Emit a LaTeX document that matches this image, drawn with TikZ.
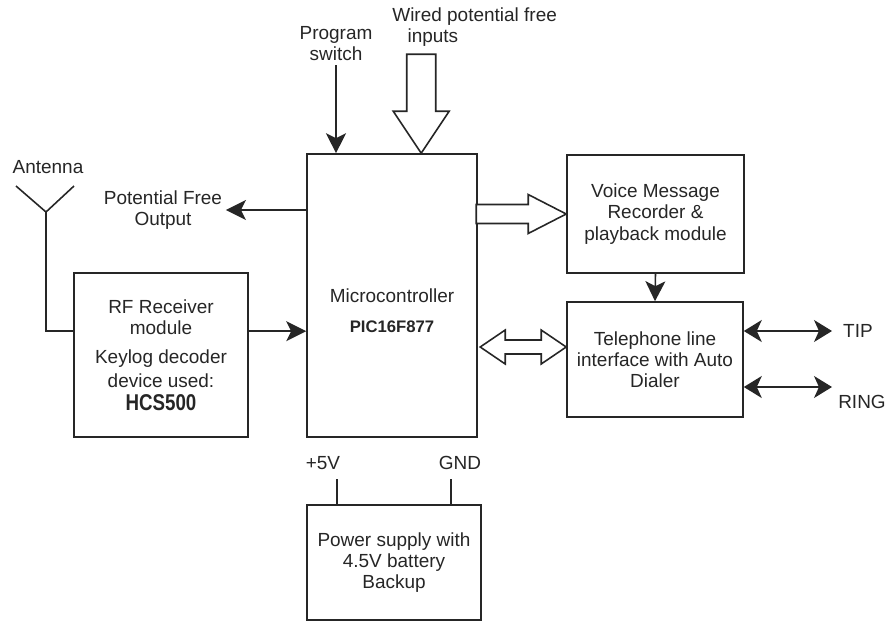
\documentclass[tikz,border=0pt]{standalone}
\usepackage{fontspec}
\setmainfont{Liberation Sans}
\usetikzlibrary{arrows.meta,positioning,calc}

\begin{document}
\begin{tikzpicture}[
    box/.style={rectangle, draw=black!85, line width=0.9pt, align=center, inner sep=2pt, font=\fontsize{10.8}{12}\selectfont, text=black!85},
    lbl/.style={align=center, inner sep=2pt, font=\fontsize{10.8}{12}\selectfont, text=black!85},
    wire/.style={line width=0.9pt, draw=black!85},
    arrow/.style={-{Stealth[length=4mm, width=4mm, inset=1mm]}, line width=0.9pt, draw=black!85},
    darrow/.style={{Stealth[length=3.6mm, width=4.4mm, inset=1mm]}-{Stealth[length=3.6mm, width=4.4mm, inset=1mm]}, line width=0.9pt, draw=black!85},
    fat/.style={draw=black!85, line width=0.9pt, fill=white, line join=miter}
]
\useasboundingbox (0,0) rectangle (17.8,-12.52);

% 1. Microcontroller
\node[box, minimum width=3.4cm, minimum height=5.66cm] (micro) at (7.84,-5.91) {};
\node[lbl] (microlbl) at (7.84,-6.22) {Microcontroller\\[5pt]{\fontsize{9.5}{11}\selectfont\bfseries PIC16F877}};

% 2. RF receiver and antenna
\node[box, minimum width=3.48cm, minimum height=3.28cm] (rf) at (3.22,-7.10) {RF Receiver\\module\\[5pt]Keylog decoder\\[1.5pt]device used:\\[1pt]{\fontsize{13}{14}\selectfont\bfseries\scalebox{0.82}[1]{HCS500}}};
\node[lbl] (ant) at (0.96,-3.34) {Antenna};
\coordinate (apex) at (0.92,-4.24);
\coordinate (rfy) at ($(rf.north west)+(0,-1.18)$);

% 3. Voice recorder and telephone interface
\node[box, minimum width=3.54cm, minimum height=2.36cm] (voice) at (13.11,-4.28) {Voice Message\\Recorder \&\\playback module};
\node[box, minimum width=3.52cm, minimum height=2.30cm] (tel) at (13.10,-7.19) {Telephone line\\interface with Auto\\Dialer};
\node[lbl] (tip) at (17.16,-6.62) {TIP};
\node[lbl] (ring) at (17.24,-8.04) {RING};
\coordinate (tipend) at (16.64,-6.62);
\coordinate (ringend) at (16.64,-7.74);

% 4. Power supply
\node[box, minimum width=3.48cm, minimum height=2.30cm] (power) at (7.88,-11.25) {Power supply with\\4.5V battery\\Backup};
\node[lbl] (v5) at (6.46,-9.26) {+5V};
\node[lbl] (gnd) at (9.20,-9.26) {GND};
\coordinate (p5top) at ($(power.north west)+(0.62,0.5)$);
\coordinate (gndtop) at ($(power.north west)+(2.9,0.5)$);

% 5. Inputs and outputs
\node[lbl] (prog) at (6.72,-0.88) {Program\\switch};
\node[lbl, align=left, anchor=west] (wired) at (7.77,-0.55) {Wired potential free\\\hspace*{0.8em}inputs};
\node[lbl] (pfo) at (3.26,-4.2) {Potential Free\\Output};

% Arrows
\draw[arrow] (prog.south) -- (prog.south |- micro.north);
\draw[arrow] (pfo.east -| micro.west) -- (pfo.east);
\draw[wire] ($(apex)+(-0.6,0.52)$) -- (apex) -- ($(apex)+(0.56,0.52)$);
\draw[wire] (apex) |- (rfy);
\draw[arrow] (rfy -| rf.east) -- (rfy -| micro.west);
\draw[arrow] (voice.south) -- (tel.north);
\draw[darrow] (tipend -| tel.east) -- (tipend);
\draw[darrow] (ringend -| tel.east) -- (ringend);
\draw[wire] (p5top |- power.north) -- (p5top);
\draw[wire] (gndtop |- power.north) -- (gndtop);

% Hollow bus arrows
\coordinate (wtip) at ($(micro.north west)+(2.3,0)$);
\draw[fat] (wtip) -- ++(-0.56,0.84) -- ++(0.27,0) -- ++(0,1.14) -- ++(0.58,0) -- ++(0,-1.14) -- ++(0.27,0) -- cycle;
\draw[fat] (voice.west) -- ++(-0.76,0.39) -- ++(0,-0.2) -- ++(-1.04,0) -- ++(0,-0.38) -- ++(1.04,0) -- ++(0,-0.2) -- cycle;
\coordinate (dtip) at ($(tel.west)+(0,0.25)$);
\draw[fat] (dtip) -- ++(-0.5,0.34) -- ++(0,-0.2) -- ++(-0.72,0) -- ++(0,0.2) -- ++(-0.5,-0.34) -- ++(0.5,-0.34) -- ++(0,0.2) -- ++(0.72,0) -- ++(0,-0.2) -- cycle;

\end{tikzpicture}
\end{document}
